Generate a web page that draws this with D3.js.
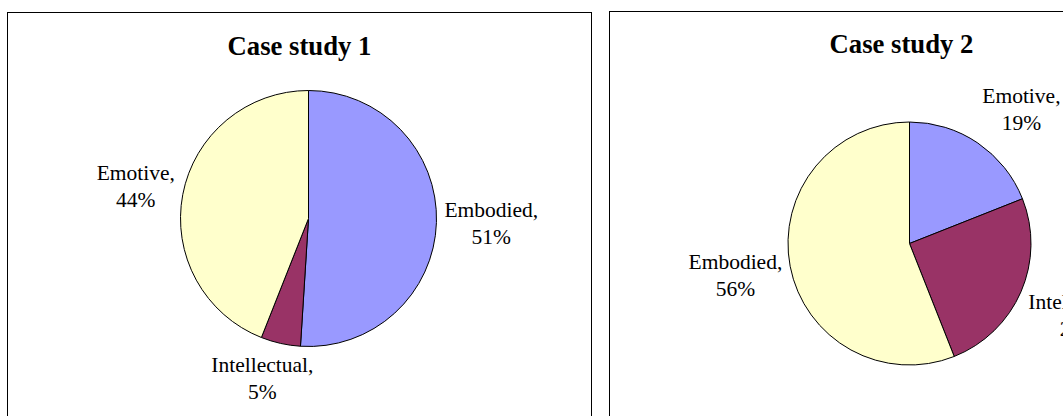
<!DOCTYPE html>
<html>
<head>
<meta charset="utf-8">
<script src="https://cdn.jsdelivr.net/npm/d3@7"></script>
<style>
  html, body { margin: 0; padding: 0; background: #fff; }
  svg { display: block; }
</style>
</head>
<body>
<svg id="chart" width="1063" height="416"></svg>
<script>
// ---- Data ----
const titles = ["Case study 1", "Case study 2"];
const categories1 = ["Embodied", "Intellectual", "Emotive"];
const values1 = [51, 5, 44];
const categories2 = ["Emotive", "Intellectual", "Embodied"];
const values2 = [19, 25, 56];
const sliceColors = ["#9999FF", "#993366", "#FFFFCC"];

// ---- Layout ----
const panels = [
  { x: 7.5, y: 12.5, w: 584, h: 420, cx: 308.5, cy: 218.5, r: 128, titleY: 54.5,
    cats: categories1, vals: values1, title: titles[0] },
  { x: 609.5, y: 11.5, w: 584, h: 420, cx: 909.5, cy: 243.5, r: 121.5, titleY: 53,
    cats: categories2, vals: values2, title: titles[1] }
];

const FS = 21.5, LH = 27;
const svg = d3.select("#chart");
const pie = d3.pie().sort(null).value(d => d.v);
const color = d3.scaleOrdinal().domain([0, 1, 2]).range(sliceColors);

function f(x) {
  const a = Math.max(0, Math.min(1, 2.4 * Math.abs(x) - 0.2));
  return Math.sign(x) * a;
}

panels.forEach(p => {
  const g = svg.append("g");
  g.append("rect")
    .attr("x", p.x).attr("y", p.y).attr("width", p.w).attr("height", p.h)
    .attr("fill", "#fff").attr("stroke", "#000").attr("stroke-width", 1);

  g.append("text")
    .attr("x", p.x + p.w / 2).attr("y", p.titleY)
    .attr("text-anchor", "middle")
    .attr("font-family", "'Liberation Serif', 'Times New Roman', serif")
    .attr("font-weight", "bold").attr("font-size", 26.7)
    .attr("fill", "#000")
    .text(p.title);

  const data = p.cats.map((c, i) => ({ c, v: p.vals[i], i }));
  const arcs = pie(data);
  const arc = d3.arc().innerRadius(0).outerRadius(p.r);
  const pg = g.append("g").attr("transform", `translate(${p.cx},${p.cy})`);
  pg.selectAll("path").data(arcs).join("path")
    .attr("d", arc)
    .attr("fill", d => color(d.data.i))
    .attr("stroke", "#000").attr("stroke-width", 1).attr("stroke-linejoin", "round");

  const total = d3.sum(p.vals);
  arcs.forEach(a => {
    const mid = (a.startAngle + a.endAngle) / 2;
    const s = Math.sin(mid), c = Math.cos(mid);
    const ax = p.cx + s * (p.r + 8);
    const ay = p.cy - c * (p.r + 8);
    const t = g.append("text")
      .attr("font-family", "'Liberation Serif', 'Times New Roman', serif")
      .attr("font-size", FS).attr("fill", "#000")
      .attr("text-anchor", "middle");
    const l1 = t.append("tspan").text(a.data.c + ",");
    const l2 = t.append("tspan").text(Math.round(a.data.v / total * 100) + "%");
    const w = Math.max(l1.node().getComputedTextLength(), l2.node().getComputedTextLength());
    const h = 2 * LH;
    const xc = ax + f(s) * w / 2;
    const yc = ay - f(c) * h / 2;
    const b1 = yc - LH / 2 + 0.35 * FS;
    l1.attr("x", xc).attr("y", b1);
    l2.attr("x", xc).attr("y", b1 + LH);
  });
});
</script>
</body>
</html>
